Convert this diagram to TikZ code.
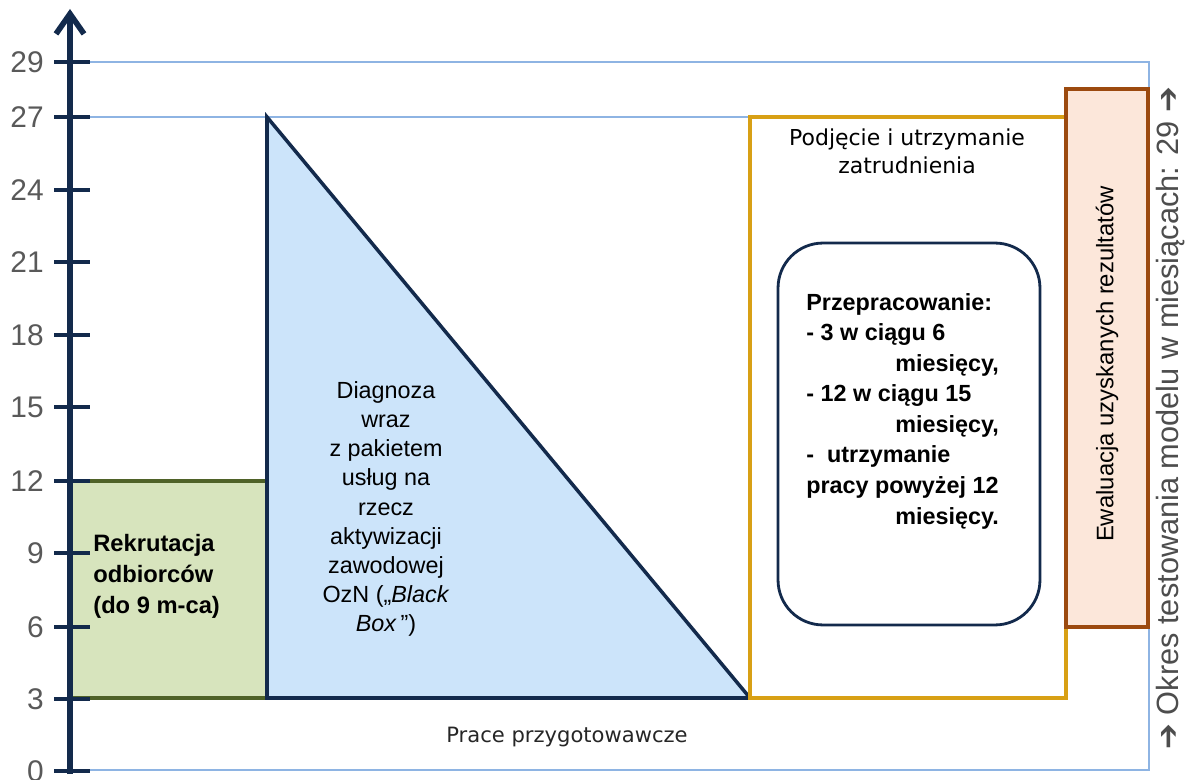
\documentclass[tikz,border=0pt]{standalone}
\usepackage{fontspec}
\setmainfont{Liberation Sans}
\newfontfamily\dejavu{DejaVu Sans}
\usetikzlibrary{arrows.meta}
\definecolor{axisnavy}{HTML}{132A4C}
\definecolor{frameblue}{HTML}{8EB4E3}
\definecolor{recfill}{HTML}{D7E4BD}
\definecolor{recline}{HTML}{4F6228}
\definecolor{diagfill}{HTML}{CCE4FA}
\definecolor{jobgold}{HTML}{D8A015}
\definecolor{evalbrown}{HTML}{9C4A0F}
\definecolor{evalfill}{HTML}{FCE7DA}
\definecolor{ticktext}{HTML}{595959}
\definecolor{sidetext}{HTML}{4D4D4D}

\begin{document}
\begin{tikzpicture}[x=0.02cm,y=-0.02cm,
  frameline/.style={frameblue, line width=1.2pt},
  axtick/.style={axisnavy, line width=2.6pt},
  ticklabel/.style={ticktext, anchor=east, inner sep=0pt, font=\fontsize{17}{20}\selectfont}]
\useasboundingbox (0,0) rectangle (1190,780);

% frame and month lines
\draw[frameline] (70,62) -- (1149,62) -- (1149,770) -- (70,770);
\draw[frameline] (70,117) -- (750,117);

% recruitment
\fill[recfill] (72,481) rectangle (267,698);
\draw[recline, line width=2pt] (72,481) -- (267,481);
\draw[recline, line width=2pt] (72,698) -- (267,698);
\node[anchor=west, align=left, inner sep=0pt, font=\bfseries\fontsize{13.5}{17.6}\selectfont] (rekrtxt) at (93,576) {Rekrutacja\\odbiorców\\(do 9 m-ca)};

% diagnosis
\draw[axisnavy, fill=diagfill, line width=2pt, line join=miter] (267,117) -- (267,698) -- (750,698) -- cycle;
\node[align=center, font=\fontsize{13.3}{16.6}\selectfont] (diagtxt) at (386,509) {Diagnoza\\wraz\\z pakietem\\usług na\\rzecz\\aktywizacji\\zawodowej\\OzN („\textit{Black}\\\textit{Box}\,”)};

% employment
\draw[jobgold, line width=2pt] (750,117) rectangle (1066,698);
\node[align=center, font=\dejavu\fontsize{12.5}{16}\selectfont] (jobtitle) at (907,151) {Podjęcie i utrzymanie\\zatrudnienia};
\node[draw=axisnavy, line width=1.6pt, rounded corners=0.9cm, minimum width=5.24cm, minimum height=7.64cm] (przep) at (909,434) {};
\node[anchor=west, align=left, inner sep=0pt, font=\bfseries\fontsize{13.3}{17.4}\selectfont] (przeptxt) at (806,411) {Przepracowanie:\\- 3 w ciągu 6\\\hspace*{1.78cm}miesięcy,\\- 12 w ciągu 15\\\hspace*{1.78cm}miesięcy,\\-~~utrzymanie\\pracy powyżej 12\\\hspace*{1.78cm}miesięcy.};

% evaluation
\draw[evalbrown, fill=evalfill, line width=2pt] (1066,89) rectangle (1148,627);
\node[rotate=90, font=\fontsize{13.6}{15}\selectfont] (evaltxt) at (1107,364) {Ewaluacja uzyskanych rezultatów};

% period
\node[rotate=90, text=sidetext, font=\fontsize{17.5}{20}\selectfont] (okres) at (1171,418) {{\dejavu\bfseries ➔}\ Okres testowania modelu w miesiącach: 29\ {\dejavu\bfseries ➔}};
\node[font=\dejavu\fontsize{12}{14}\selectfont, text=black!85] (prace) at (567,737) {Prace przygotowawcze};

% axis
\foreach \v/\py in {0/771,3/699,6/627,9/553,12/481,15/407,18/335,21/262,24/190,27/117,29/62} {
  \draw[axtick] (54,\py) -- (90,\py);
  \node[ticklabel] (lbl\v) at (44,\py) {\v};
}
\draw[axisnavy, line width=3.2pt, -{Straight Barb[length=4mm, width=5.6mm]}] (70,774) -- (70,9);
\end{tikzpicture}
\end{document}
